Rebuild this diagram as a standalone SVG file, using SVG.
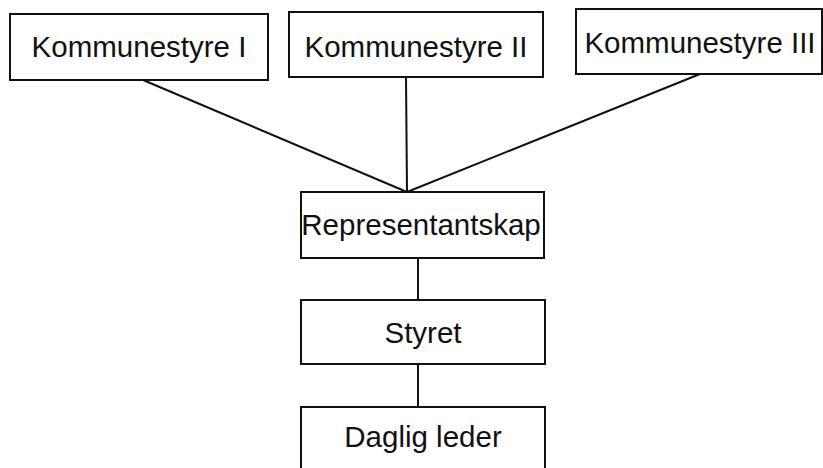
<svg xmlns="http://www.w3.org/2000/svg" width="823" height="468" viewBox="0 0 823 468">
<style>
.box{fill:#fff;stroke:#111;stroke-width:2}
.lbl{font-family:"Liberation Sans",Arial,sans-serif;font-size:29.5px;fill:#111;text-anchor:middle}
.con{stroke:#111;stroke-width:2;fill:none}
</style>
<rect width="823" height="468" fill="#fff"/>
<g id="connectors">
<line class="con" x1="143" y1="80" x2="407" y2="192"/>
<line class="con" x1="406" y1="77" x2="407" y2="192"/>
<line class="con" x1="700" y1="74" x2="407" y2="192"/>
<line class="con" x1="418" y1="258" x2="418" y2="300"/>
<line class="con" x1="418" y1="364" x2="418" y2="407"/>
</g>
<g id="k1"><rect class="box" x="10" y="14" width="258" height="66"/><text class="lbl" x="139" y="57">Kommunestyre I</text></g>
<g id="k2"><rect class="box" x="289" y="12" width="254" height="65"/><text class="lbl" x="416" y="57">Kommunestyre II</text></g>
<g id="k3"><rect class="box" x="576" y="9" width="246" height="65"/><text class="lbl" x="700" y="53">Kommunestyre III</text></g>
<g id="repr"><rect class="box" x="301" y="192" width="243" height="66"/><text class="lbl" x="421" y="235">Representantskap</text></g>
<g id="styret"><rect class="box" x="301" y="300" width="244" height="64"/><text class="lbl" x="423" y="343">Styret</text></g>
<g id="daglig"><rect class="box" x="301" y="407" width="244" height="70"/><text class="lbl" x="423" y="447">Daglig leder</text></g>
</svg>
